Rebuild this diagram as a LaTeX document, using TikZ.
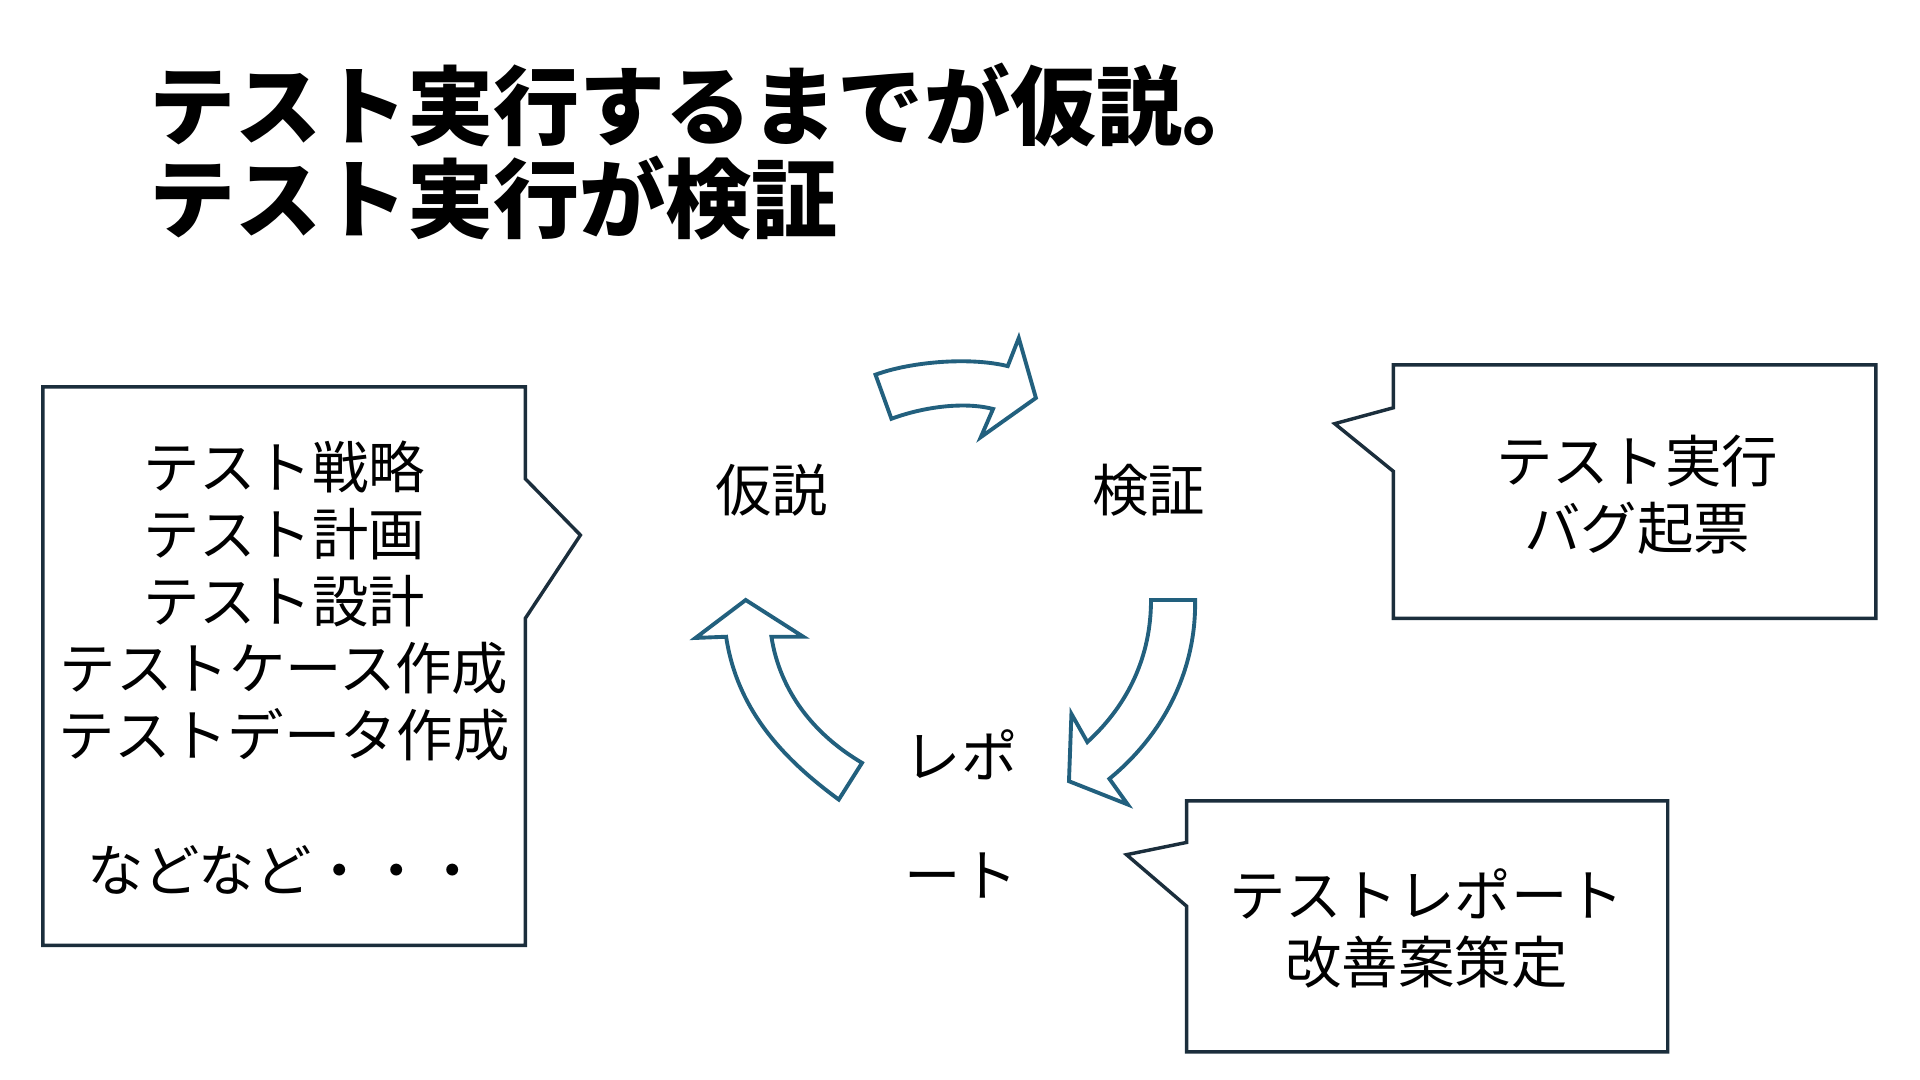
\documentclass[tikz,border=0pt]{standalone}
\usepackage{fontspec}
\setmainfont{Noto Sans CJK JP}
\usepackage{tikz}
\usetikzlibrary{positioning}
\definecolor{calloutline}{HTML}{1B2E3C}
\definecolor{arrowline}{HTML}{22607E}

\begin{document}
\begin{tikzpicture}[x=0.01cm, y=-0.01cm,
	callout/.style={draw=calloutline, line width=0.8pt, fill=white},
	cyclearrow/.style={draw=arrowline, line width=0.9pt, fill=white, line join=miter},
	boxtext/.style={align=center, inner sep=0pt, font=\fontsize{13.1}{15.6}\selectfont},
	steplabel/.style={inner sep=0pt, font=\fontsize{13.1}{15.6}\selectfont}]
	\useasboundingbox (0,0) rectangle (1568,882);
	
	% Title
	\node[anchor=west, align=left, inner sep=0pt, font=\fontsize{20}{21.6}\selectfont\bfseries] (title) at (121,124) {テスト実行するまでが仮説。\\テスト実行が検証};
	
	% Cycle labels
	\node[steplabel] (hypo) at (630,400) {仮説};
	\node[steplabel] (verify) at (938,400) {検証};
	\node[steplabel, align=center, font=\fontsize{13.1}{27.6}\selectfont] (report) at (785,665) {レポ\\ート};
	
	% Cycle arrows
	\draw[cyclearrow] (728,342) -- (715,306) .. controls (742,296) and (790,291) .. (823,299)
		-- (832,276) -- (846,325) -- (801,357) -- (811,334)
		.. controls (788,328) and (755,332) .. cycle;
	\draw[cyclearrow] (940,490) -- (976,490) .. controls (977,548) and (950,600) .. (906,636)
		-- (921,657) -- (873,638) -- (875,583) -- (888,606)
		.. controls (922,575) and (940,535) .. cycle;
	\draw[cyclearrow] (609,490) -- (656,520) -- (630,520) .. controls (637,565) and (665,600) .. (704,623)
		-- (685,653) .. controls (640,620) and (602,580) .. (593,520)
		-- (568,521) -- cycle;
	
	% Left callout
	\draw[callout] (35,316) -- (429,316) -- (429,391) -- (474,437) -- (429,505) -- (429,772) -- (35,772) -- cycle;
	\node[boxtext] (plan) at (232,545) {テスト戦略\\テスト計画\\テスト設計\\テストケース作成\\テストデータ作成\\[15.6pt]などなど・・・};
	
	% Right callouts
	\draw[callout] (1138,298) -- (1532,298) -- (1532,505) -- (1138,505) -- (1138,385) -- (1090,346) -- (1138,333) -- cycle;
	\node[boxtext] (exec) at (1337,404) {テスト実行\\バグ起票};
	
	\draw[callout] (969,654) -- (1362,654) -- (1362,859) -- (969,859) -- (969,740) -- (920,698) -- (969,688) -- cycle;
	\node[boxtext] (improve) at (1165,758) {テストレポート\\改善案策定};
\end{tikzpicture}
\end{document}
